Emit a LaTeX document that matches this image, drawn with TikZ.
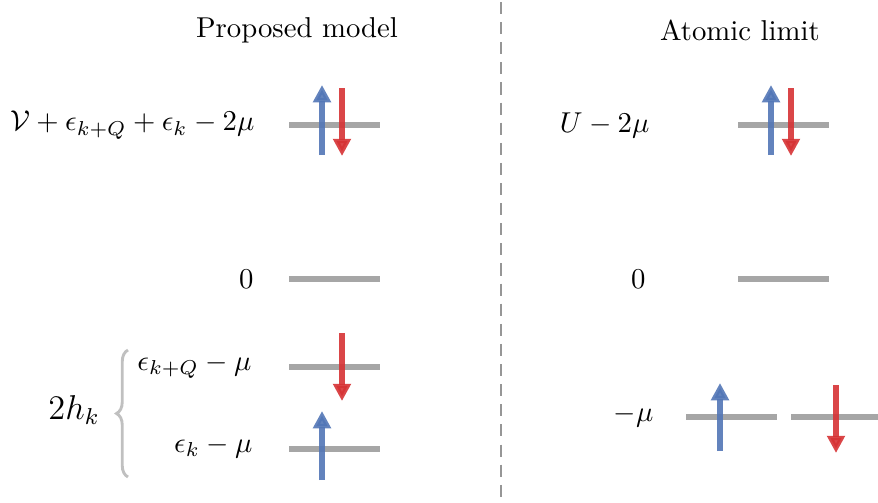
\documentclass[tikz,border=0pt]{standalone}
\usetikzlibrary{arrows.meta,decorations.pathreplacing}

\definecolor{spinblue}{RGB}{82,118,182}
\definecolor{spinred}{RGB}{214,50,52}
\definecolor{levelgray}{RGB}{150,150,150}

\begin{document}
\begin{tikzpicture}[x=0.348pt, y=-0.348pt,
  level/.style ={draw=levelgray, line width=2.1pt, opacity=0.85},
  spinup/.style ={draw=spinblue, line width=1.8pt, opacity=0.9, -{Triangle[width=6pt,length=6pt]}},
  spindn/.style ={draw=spinred, line width=1.8pt, opacity=0.9, -{Triangle[width=6pt,length=6pt]}},
  lbl/.style   ={anchor=east, inner sep=0pt},
  sep/.style   ={draw=levelgray, line width=1pt, dash pattern=on 4.2pt off 2.8pt},
  bracel/.style={draw=levelgray!60, line width=1pt, decorate,
                 decoration={brace, amplitude=4pt}}]
  \useasboundingbox (0,0) rectangle (878,502);

  % ---------------- headings & separator ----------------
  \node (title1) at (297,30) {Proposed model};
  \node (title2) at (740,30) {Atomic limit};
  \draw[sep] (501,2) -- (501,502);

  % ---------------- proposed model: levels ----------------
  \draw[level] (289,125) -- (380,125);
  \draw[level] (289,279) -- (380,279);
  \draw[level] (289,367) -- (380,367);
  \draw[level] (289,449) -- (380,449);

  \node[lbl] (pm-dbl)  at (255,125) {$\mathcal{V}+\epsilon_{k+Q}+\epsilon_k-2\mu$};
  \node[lbl] (pm-zero) at (254,279) {$0$};
  \node[lbl] (pm-kq)   at (252,366) {$\epsilon_{k+Q}-\mu$};
  \node[lbl] (pm-k)    at (253,447) {$\epsilon_k-\mu$};

  % spins
  \draw[spinup] (322,155) -- (322,85);
  \draw[spindn] (342,88)  -- (342,156);
  \draw[spindn] (342,333) -- (342,401);
  \draw[spinup] (322,480) -- (322,411);

  % splitting brace
  \draw[bracel] (128,477) -- (128,350);
  \node[font=\large] (pm-split) at (74,410) {$2h_k$};

  % ---------------- atomic limit: levels ----------------
  \draw[level] (738,125) -- (829,125);
  \draw[level] (738,279) -- (829,279);
  \draw[level] (686,417) -- (777,417);
  \draw[level] (791,417) -- (878,417);

  \node[lbl] (al-dbl)  at (650,125) {$U-2\mu$};
  \node[lbl] (al-zero) at (646,279) {$0$};
  \node[lbl] (al-sgl)  at (654,416) {$-\mu$};

  % spins
  \draw[spinup] (771,155) -- (771,85);
  \draw[spindn] (791,88)  -- (791,156);
  \draw[spinup] (720,451) -- (720,383);
  \draw[spindn] (836,385) -- (836,453);
\end{tikzpicture}
\end{document}
